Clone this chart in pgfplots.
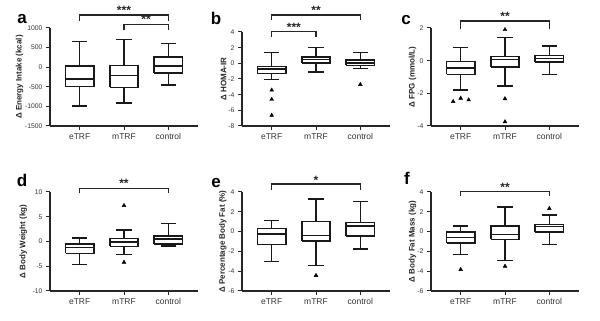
\documentclass[border=0pt]{standalone}
\usepackage{pgfplots}
\pgfplotsset{compat=1.18}
\usepackage{fontspec}
\setmainfont{Liberation Sans}
\pgfplotsset{
  myax/.style={
    scale only axis, width=148pt,
    xmin=-0.67, xmax=2.67,
    axis lines=left, axis line style={-, line width=1.1pt, black!85},
    tick align=outside, tick pos=left, major tick length=4pt,
    tick style={line width=1.0pt, black!85},
    xtick={0,1,2}, xticklabels={eTRF,mTRF,control},
    xticklabel style={font=\fontsize{8.5}{9}\selectfont, text=black!80},
    yticklabel style={font=\fontsize{6.8}{8}\selectfont, text=black!80},
    ylabel style={font=\bfseries\fontsize{8}{9}\selectfont, text=black!85, anchor=center},
    clip=false,
  },
  bxst/.style={black!90, line width=1.4pt, mark=none},
  outl/.style={only marks, mark=triangle*, mark size=2.2pt, black},
  brk/.style={line width=1.1pt, black!85, mark=none},
}
\tikzset{stars/.style={anchor=base, inner sep=0pt, font=\bfseries\fontsize{12}{12}\selectfont, text=black!85}}
% #1 position, #2 lower whisker, #3 lower quartile, #4 median, #5 upper quartile, #6 upper whisker
\newcommand{\bx}[6]{%
  \pgfmathsetmacro\bxL{#1-0.32}\pgfmathsetmacro\bxR{#1+0.32}%
  \pgfmathsetmacro\bxCL{#1-0.17}\pgfmathsetmacro\bxCR{#1+0.17}%
  \addplot[bxst] coordinates {(#1,#5) (#1,#6)};
  \addplot[bxst] coordinates {(\bxCL,#6) (\bxCR,#6)};
  \addplot[bxst] coordinates {(#1,#3) (#1,#2)};
  \addplot[bxst] coordinates {(\bxCL,#2) (\bxCR,#2)};
  \addplot[bxst, fill=white, line join=miter] coordinates {(\bxL,#3) (\bxR,#3) (\bxR,#5) (\bxL,#5) (\bxL,#3)};
  \addplot[bxst] coordinates {(\bxL,#4) (\bxR,#4)};
}
\begin{document}
\begin{tikzpicture}
\path (0,0) rectangle (600pt,321pt);
% a
\begin{axis}[myax, at={(50pt,195pt)}, anchor=south west, height=98pt,
  ymin=-1500, ymax=1000, ytick={-1500,-1000,-500,0,500,1000},
  yticklabels={-1500,-1000,-500,0,500,1000},
  ylabel={Δ Energy Intake (kcal)}, ylabel style={at={(axis description cs:-0.205,0.5)}}]
\bx{0}{-990}{-500}{-305}{30}{650}
\bx{1}{-910}{-515}{-205}{40}{710}
\bx{2}{-450}{-150}{30}{255}{600}
\addplot[brk] coordinates {(0,1179) (0,1332) (2,1332) (2,1179)};
\addplot[brk] coordinates {(1,941) (1,1094) (2,1094) (2,941)};
\node[stars] at (axis cs:1,1345) {***};
\node[stars] at (axis cs:1.5,1107) {**};
\end{axis}
% b
\begin{axis}[myax, at={(242pt,195pt)}, anchor=south west, height=94pt,
  ymin=-8, ymax=4, ytick={-8,-6,-4,-2,0,2,4},
  yticklabels={-8,-6,-4,-2,0,2,4},
  ylabel={Δ HOMA-IR}, ylabel style={at={(axis description cs:-0.125,0.5)}}]
\bx{0}{-2.06}{-1.3}{-0.72}{-0.4}{1.35}
\bx{1}{-1.13}{0.06}{0.48}{0.82}{2.05}
\bx{2}{-0.66}{-0.24}{0.05}{0.4}{1.35}
\addplot[outl] coordinates {(0,-3.42) (0,-4.6) (0,-6.64) (2,-2.7)};
\addplot[brk] coordinates {(0,5.53) (0,6.17) (2,6.17) (2,5.53)};
\addplot[brk] coordinates {(0,3.4) (0,4.04) (1,4.04) (1,3.4)};
\node[stars] at (axis cs:1,6.23) {**};
\node[stars] at (axis cs:0.5,4.1) {***};
\end{axis}
% c
\begin{axis}[myax, at={(431pt,195pt)}, anchor=south west, height=98pt,
  ymin=-4, ymax=2, ytick={-4,-2,0,2},
  yticklabels={-4,-2,0,2},
  ylabel={Δ FPG (mmol/L)}, ylabel style={at={(axis description cs:-0.125,0.5)}}]
\bx{0}{-1.8}{-0.83}{-0.44}{-0.05}{0.8}
\bx{1}{-1.54}{-0.38}{0.07}{0.27}{1.41}
\bx{2}{-0.83}{-0.07}{0.13}{0.33}{0.9}
\addplot[outl] coordinates {(-0.17,-2.5) (0,-2.3) (0.18,-2.4) (1,1.9) (1,-2.33) (1,-3.74)};
\addplot[brk] coordinates {(0,1.91) (0,2.43) (2,2.43) (2,1.91)};
\node[stars] at (axis cs:1,2.46) {**};
\end{axis}
% d
\begin{axis}[myax, at={(50pt,30pt)}, anchor=south west, height=99pt,
  ymin=-10, ymax=10, ytick={-10,-5,0,5,10},
  yticklabels={-10,-5,0,5,10},
  ylabel={Δ Body Weight (kg)}, ylabel style={at={(axis description cs:-0.18,0.5)}}]
\bx{0}{-4.67}{-2.4}{-1.2}{-0.53}{0.67}
\bx{1}{-2.67}{-1.0}{-0.1}{0.6}{2.33}
\bx{2}{-0.87}{-0.53}{0.47}{1.13}{3.6}
\addplot[outl] coordinates {(1,7.27) (1,-4.2)};
\addplot[brk] coordinates {(0,9.74) (0,10.75) (2,10.75) (2,9.74)};
\node[stars] at (axis cs:1,11.0) {**};
\end{axis}
% e
\begin{axis}[myax, at={(242pt,30pt)}, anchor=south west, height=99pt,
  ymin=-6, ymax=4, ytick={-6,-4,-2,0,2,4},
  yticklabels={-6,-4,-2,0,2,4},
  ylabel={Δ Percentage Body Fat (\%)}, ylabel style={at={(axis description cs:-0.13,0.5)}}]
\bx{0}{-3.0}{-1.33}{-0.23}{0.33}{1.13}
\bx{1}{-3.43}{-0.93}{-0.37}{1.0}{3.3}
\bx{2}{-1.77}{-0.43}{0.57}{0.9}{3.07}
\addplot[outl] coordinates {(1,-4.43)};
\addplot[brk] coordinates {(0,4.2) (0,4.81) (2,4.81) (2,4.2)};
\node[stars] at (axis cs:1,4.75) {*};
\end{axis}
% f
\begin{axis}[myax, at={(431pt,30pt)}, anchor=south west, height=99pt,
  ymin=-6, ymax=4, ytick={-6,-4,-2,0,2,4},
  yticklabels={-6,-4,-2,0,2,4},
  ylabel={Δ Body Fat Mass (kg)}, ylabel style={at={(axis description cs:-0.125,0.5)}}]
\bx{0}{-2.33}{-1.17}{-0.6}{-0.03}{0.57}
\bx{1}{-2.93}{-0.77}{-0.27}{0.57}{2.47}
\bx{2}{-1.33}{-0.03}{0.5}{0.73}{1.67}
\addplot[outl] coordinates {(0,-3.83) (1,-3.5) (2,2.33)};
\addplot[brk] coordinates {(0,3.58) (0,4.03) (2,4.03) (2,3.58)};
\node[stars] at (axis cs:1,4.06) {**};
\end{axis}
% panel letters
\begin{scope}[every node/.style={anchor=base, font=\bfseries\fontsize{17}{17}\selectfont}]
\node at (22pt,297pt) {a};
\node at (216pt,296pt) {b};
\node at (406pt,296pt) {c};
\node at (22pt,134.3pt) {d};
\node at (216pt,133pt) {e};
\node at (407pt,136pt) {f};
\end{scope}
\end{tikzpicture}
\end{document}
